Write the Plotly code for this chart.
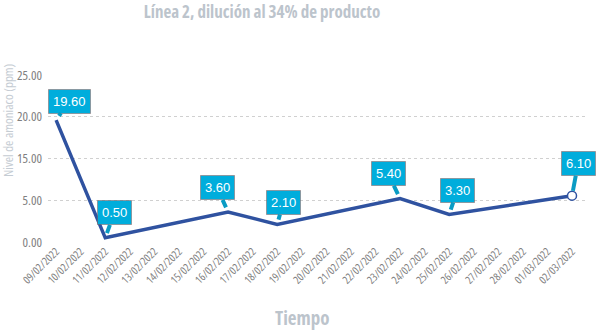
import numpy as np
import plotly.graph_objects as go

# ---- data ----
dates = ["09/02/2022", "10/02/2022", "11/02/2022", "12/02/2022", "13/02/2022",
         "14/02/2022", "15/02/2022", "16/02/2022", "17/02/2022", "18/02/2022",
         "19/02/2022", "20/02/2022", "21/02/2022", "22/02/2022", "23/02/2022",
         "24/02/2022", "25/02/2022", "26/02/2022", "27/02/2022", "28/02/2022",
         "01/03/2022", "02/03/2022"]
sample_dates = ["09/02/2022", "11/02/2022", "16/02/2022", "18/02/2022",
                "23/02/2022", "25/02/2022", "02/03/2022"]
ammonia = [19.60, 0.50, 3.60, 2.10, 5.40, 3.30, 6.10]
y_tick_values = [0, 5, 15, 20, 25]
y_tick_labels = ["0.00", "5.00", "15.00", "20.00", "25.00"]
title_text = "Línea 2, dilución al 34% de producto"
x_title = "Tiempo"
y_title = "Nivel de amoniaco (ppm)"

# ---- styling ----
label_offsets = [(13, -19), (9, -25), (-11, -24), (6, -22), (-12, -25), (8, -24), (6, -32)]
FONT = "Open Sans, DejaVu Sans, sans-serif"
LINE = "#2F52A0"
BOX = "#00ADDC"
TITLE_GRAY = "#BCC4CC"
W, H = 600, 330
L, R, T, B = 48, 13, 75, 88
PW, PH = W - L - R, H - T - B


def narrow(s, bold=False):
    inner = f"<b>{s}</b>" if bold else s
    return f"<span style=\"font-stretch:75%\">{inner}</span>"


# axis of the reference: evenly spaced gridlines labelled 0, 5, 15, 20, 25
grid_pos = list(range(len(y_tick_values)))


def scale(v):
    return np.interp(v, y_tick_values, grid_pos)


y_plot = scale(ammonia)

fig = go.Figure()
fig.add_trace(go.Scatter(
    x=sample_dates, y=y_plot, mode="lines",
    line=dict(color=LINE, width=3.5), hoverinfo="skip", showlegend=False))
fig.add_trace(go.Scatter(
    x=[sample_dates[-1]], y=[y_plot[-1]], mode="markers",
    marker=dict(size=9, color="white", line=dict(color=LINE, width=1.5)),
    hoverinfo="skip", showlegend=False))

for d, v, yp, (dx, dy) in zip(sample_dates, ammonia, y_plot, label_offsets):
    fig.add_annotation(
        x=d, y=yp, text=f"{v:.2f}", showarrow=True, arrowhead=0,
        arrowcolor="#0A9CC4", arrowwidth=4, standoff=5,
        ax=dx, ay=dy, bgcolor=BOX, bordercolor="rgba(150,80,70,0.45)",
        borderwidth=1, borderpad=4,
        font=dict(family="Liberation Sans, Arial, sans-serif", size=13, color="white"))

fig.add_annotation(x=(8 - L) / PW, y=(H - B - 120) / PH, xref="paper", yref="paper",
                   text=narrow(y_title), textangle=-90, showarrow=False,
                   xanchor="center", yanchor="middle",
                   font=dict(family=FONT, size=13, color="#C5CCD3"))
fig.add_annotation(x=(302 - L) / PW, y=-(318 - (H - B)) / PH, xref="paper", yref="paper",
                   text=narrow(x_title, True), showarrow=False,
                   xanchor="center", yanchor="middle",
                   font=dict(family=FONT, size=19, color=TITLE_GRAY))

fig.update_layout(
    width=W, height=H,
    margin=dict(l=L, r=R, t=T, b=B, autoexpand=False),
    paper_bgcolor="white", plot_bgcolor="white",
    font=dict(family=FONT),
    title=dict(text=narrow(title_text, True), xref="container", yref="container",
               x=262 / W, y=1 - 12 / H, xanchor="center", yanchor="middle",
               font=dict(family=FONT, size=17, color=TITLE_GRAY)),
    xaxis=dict(type="category", categoryorder="array", categoryarray=dates,
               tickvals=dates, ticktext=[narrow(d) for d in dates],
               range=[-0.33, 21.61], tickangle=-45, showgrid=False, zeroline=False,
               showline=False, ticks="", tickfont=dict(family=FONT, size=11, color="#808080")),
    yaxis=dict(range=[0, 4], tickvals=grid_pos, ticktext=[narrow(t) for t in y_tick_labels],
               showgrid=True, gridcolor="#D0D0D0", griddash="3px,3px", gridwidth=1,
               zeroline=False, showline=False, ticks="", ticklabelstandoff=5,
               tickfont=dict(family=FONT, size=13, color="#808080")),
)
fig.write_html("out.html")
